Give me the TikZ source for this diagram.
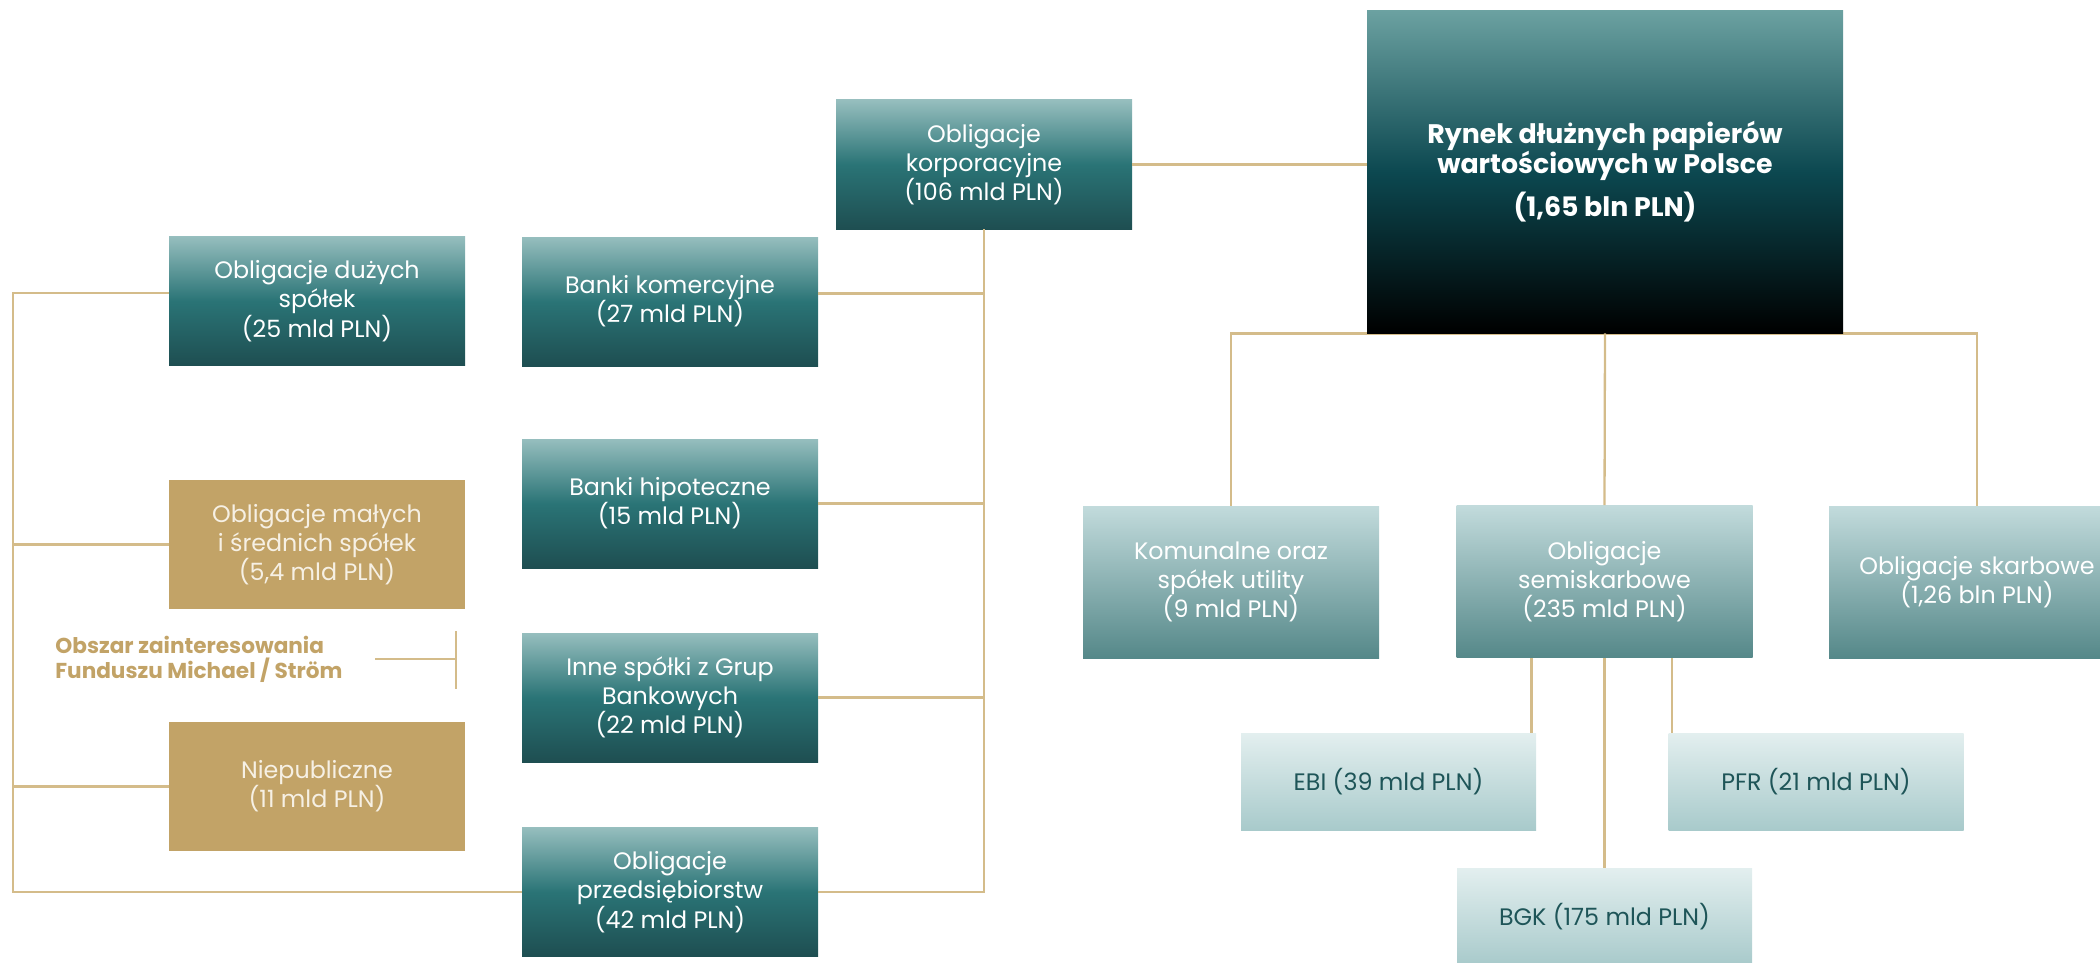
\documentclass[tikz,border=0pt]{standalone}
\usepackage{fontspec}
\setmainfont{Poppins}
\definecolor{gold}{HTML}{C2A367}
\definecolor{goldline}{HTML}{D4BC8A}
\definecolor{tealtop}{HTML}{96BEBE}
\definecolor{tealmid}{HTML}{2A7476}
\definecolor{tealbot}{HTML}{1E4E51}
\definecolor{bigtop}{HTML}{6BA1A1}
\definecolor{bigmid}{HTML}{0C4850}
\definecolor{bigbot}{HTML}{000000}
\definecolor{lighttop}{HTML}{C2DBDC}
\definecolor{lightbot}{HTML}{558889}
\definecolor{paletop}{HTML}{E3EFEF}
\definecolor{palebot}{HTML}{A8CACB}
\definecolor{paletext}{HTML}{1E5558}
\definecolor{goldtext}{HTML}{F6F0E4}
\pgfdeclarelayer{bg}
\pgfsetlayers{bg,main}
\begin{document}
\begin{tikzpicture}[x=0.5pt,y=-0.5pt,
  base/.style={inner sep=2pt, align=center, text=white,
    font=\fontsize{11.9}{14.6}\selectfont,
    minimum width=148pt, minimum height=64.5pt},
  tealbox/.style={base, top color=tealtop, bottom color=tealbot, middle color=tealmid},
  goldbox/.style={base, fill=gold, text=goldtext},
  lightbox/.style={base, minimum height=76pt, top color=lighttop, bottom color=lightbot},
  palebox/.style={base, minimum width=147.5pt, minimum height=48.5pt, top color=paletop, bottom color=palebot, text=paletext},
  bigbox/.style={base, minimum width=238pt, minimum height=161pt,
    top color=bigtop, bottom color=bigbot, middle color=bigmid,
    font=\bfseries\fontsize{13.4}{14.8}\selectfont},
  obsz/.style={align=left, text=gold, inner sep=0pt,
    font=\bfseries\fontsize{10.8}{12.6}\selectfont},
  link/.style={draw=goldline, line width=1.15pt}
]
\useasboundingbox (0,0) rectangle (2100,963);
\clip (0,0) rectangle (2100,963);

% nodes
\node[bigbox] (big) at (1605,172) {Rynek dłużnych papierów\\wartościowych w Polsce\\[5pt](1,65 bln PLN)};
\node[tealbox] (corp) at (984,164.5) {Obligacje\\korporacyjne\\(106 mld PLN)};
\node[tealbox] (komerc) at (670,301.5) {Banki komercyjne\\(27 mld PLN)};
\node[tealbox] (hipot) at (670,503.5) {Banki hipoteczne\\(15 mld PLN)};
\node[tealbox] (inne) at (670,697.5) {Inne spółki z Grup\\Bankowych\\(22 mld PLN)};
\node[tealbox] (przeds) at (670,892) {Obligacje\\przedsiębiorstw\\(42 mld PLN)};
\node[tealbox] (duzych) at (317,301) {Obligacje dużych\\spółek\\(25 mld PLN)};
\node[goldbox] (malych) at (317,544.5) {Obligacje małych\\i średnich spółek\\(5,4 mld PLN)};
\node[goldbox] (niepub) at (317,786.5) {Niepubliczne\\(11 mld PLN)};
\node[lightbox] (komun) at (1231,582) {Komunalne oraz\\spółek utility\\(9 mld PLN)};
\node[lightbox] (semi) at (1604.5,581.5) {Obligacje\\semiskarbowe\\(235 mld PLN)};
\node[lightbox] (skarb) at (1977,582) {Obligacje skarbowe\\(1,26 bln PLN)};
\node[palebox] (ebi) at (1388.5,781.5) {EBI (39 mld PLN)};
\node[palebox] (pfr) at (1816,781.5) {PFR (21 mld PLN)};
\node[palebox] (bgk) at (1604.5,916.5) {BGK (175 mld PLN)};
\node[obsz, anchor=west] (obszar) at (55,659) {Obszar zainteresowania\\Funduszu Michael / Ström};

% marker next to the label
\coordinate (mkl) at (375,659);
\coordinate (mk) at (456,659);
\draw[link] (mkl) -- (mk);
\draw[link] ([yshift=14pt]mk) -- ([yshift=-15pt]mk);

% left trunk
\coordinate (L) at (13,0);
\draw[link] ([yshift=4pt]duzych.west) -- ([yshift=4pt]duzych.west -| L) -- (przeds.west -| L) -- (przeds.west);
\draw[link] (malych.west) -- (malych.west -| L);
\draw[link] (niepub.west) -- (niepub.west -| L);

% corporate trunk
\draw[link] (corp.south) -- (corp.south |- przeds.east) -- (przeds.east);
\draw[link] ([yshift=4pt]komerc.east) -- ([yshift=4pt]komerc.east -| corp.south);
\draw[link] (hipot.east) -- (hipot.east -| corp.south);
\draw[link] (inne.east) -- (inne.east -| corp.south);
\draw[link] (corp.east) -- (corp.east -| big.west);

% right tree
\begin{pgfonlayer}{bg}
\draw[link] (komun.north) |- (big.south) -| (skarb.north);
\end{pgfonlayer}
\draw[link] (big.south) -- (semi.north);
\draw[link] (semi.south) -- (bgk.north);
\draw[link] ([xshift=-2.5pt]ebi.north east) -- ([xshift=-2.5pt]ebi.north east |- semi.south);
\draw[link] ([xshift=2pt]pfr.north west) -- ([xshift=2pt]pfr.north west |- semi.south);
\end{tikzpicture}
\end{document}
